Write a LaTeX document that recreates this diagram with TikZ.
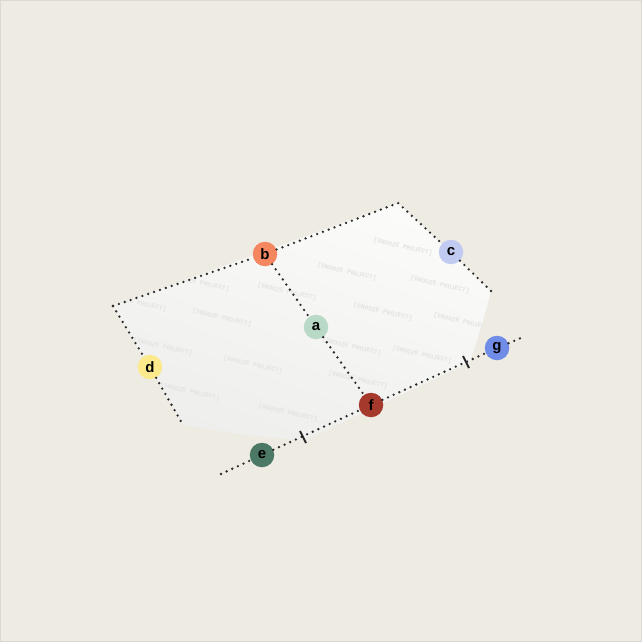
\documentclass[tikz,border=0pt]{standalone}
\usepackage{fontspec}
\setmainfont{Liberation Sans}
\newfontfamily\markfont{Liberation Mono}
\usetikzlibrary{positioning}

\definecolor{paper}{HTML}{EEEBE3}
\definecolor{frame}{HTML}{DCD9D1}
\definecolor{sheettop}{HTML}{FBFBFA}
\definecolor{sheetbot}{HTML}{EEEEED}
\definecolor{dotgray}{HTML}{2A2A2A}
\definecolor{ptA}{HTML}{B9D9C7}
\definecolor{ptB}{HTML}{F4875F}
\definecolor{ptC}{HTML}{C1CBF2}
\definecolor{ptD}{HTML}{FCE98C}
\definecolor{ptE}{HTML}{4C7866}
\definecolor{ptF}{HTML}{A5392B}
\definecolor{ptG}{HTML}{6F8CE6}

\tikzset{
  pt/.style={circle,inner sep=0pt,minimum size=24.5pt,font=\fontsize{15}{16}\selectfont\bfseries,text=black},
  fold/.style={draw=dotgray,line width=2.6pt,line cap=round,dash pattern=on 0pt off 6.2pt},
  tick/.style={draw=black!85,line width=2pt},
  stamp/.style={font=\markfont\bfseries\fontsize{6.3}{7}\selectfont,text=black!11,rotate=-13}
}

\begin{document}
\begin{tikzpicture}[x=1pt,y=-1pt]
\useasboundingbox (0,0) rectangle (642,642);
\draw[fill=paper,draw=frame,line width=1pt] (0.5,0.5) rectangle (641.5,641.5);

% sheet corners
\coordinate (s1) at (113,306);
\coordinate (s2) at (398,203);
\coordinate (s3) at (491,291);
\coordinate (s4) at (470,362);
\coordinate (s5) at (305,440);
\coordinate (s6) at (183,425);
\coordinate (lineW) at (221,474);
\coordinate (lineE) at (521,338);
\coordinate (t1) at (303,437);
\coordinate (t2) at (466,362);

\shade[top color=sheettop,bottom color=sheetbot,shading angle=-20]
  (s1) -- (s2) -- (s3) .. controls (484,318) .. (s4) -- (s5) .. controls (250,436) .. (s6) -- cycle;

% watermark
\begin{scope}
\clip (s1) -- (s2) -- (s3) .. controls (484,318) .. (s4) -- (s5) .. controls (250,436) .. (s6) -- cycle;
\foreach \px/\py in {347/272,403/247,440/285,287/292,383/312,222/318,463/322,
                     352/347,163/347,422/355,253/365,358/380,190/392,288/413,
                     200/283,137/303}
  \node[stamp] at (\px,\py) {[SNOOZE PROJECT]};
\end{scope}

% points
\node[pt,fill=ptA] (a) at (316,327) {a};
\node[pt,fill=ptB] (b) at (265,254) {b};
\node[pt,fill=ptC] (c) at (451,252) {c};
\node[pt,fill=ptD] (d) at (150,367) {d};
\node[pt,fill=ptE] (e) at (262,455) {e};
\node[pt,fill=ptF] (f) at (371,405) {f};
\node[pt,fill=ptG] (g) at (497,348) {g};

% folds
\draw[fold] (s1) -- (b) (b) -- (s2) -- (c) (c) -- (s3);
\draw[fold] (s1) -- (d) (d) -- (s6);
\draw[fold] (b) -- (a) (a) -- (f);
\draw[fold] (lineW) -- (e) (e) -- (f) (f) -- (g) (g) -- (lineE);

\draw[tick] (t1) ++(-3,-6) -- ++(6,12);
\draw[tick] (t2) ++(-3,-6) -- ++(6,12);

\end{tikzpicture}
\end{document}
